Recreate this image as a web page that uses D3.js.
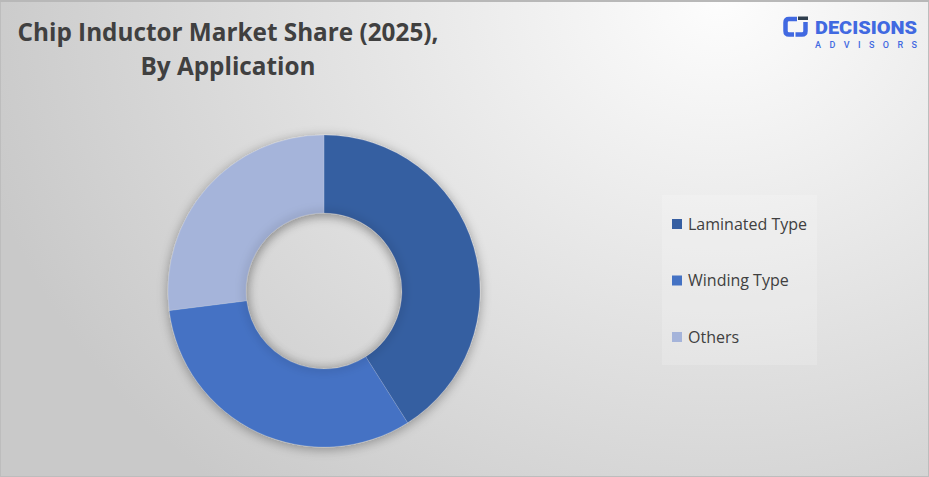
<!DOCTYPE html>
<html><head><meta charset="utf-8">
<script src="https://cdn.jsdelivr.net/npm/d3@7"></script>
<style>html,body{margin:0;padding:0;overflow:hidden;background:#fff}</style>
</head><body>
<svg id="c" width="929" height="477"></svg>
<script>
const categories = ["Laminated Type", "Winding Type", "Others"];
const shares = [41, 32, 27];
const colors = ["#365ea1", "#4472c4", "#a5b4da"];
const titleLines = ["Chip Inductor Market Share (2025),", "By Application"];

const W = 929, H = 477;
const svg = d3.select("#c");
const defs = svg.append("defs");
const bg = defs.append("radialGradient").attr("id","bg")
  .attr("gradientUnits","userSpaceOnUse").attr("cx",720).attr("cy",0).attr("r",760)
  .attr("gradientTransform","translate(720,0) scale(1,0.85) translate(-720,0)");
bg.append("stop").attr("offset","0%").attr("stop-color","#fdfdfd");
bg.append("stop").attr("offset","100%").attr("stop-color","#c9c9c9");
const sh = defs.append("filter").attr("id","sh").attr("x","-20%").attr("y","-20%").attr("width","140%").attr("height","140%");
sh.append("feGaussianBlur").attr("in","SourceAlpha").attr("stdDeviation",6).attr("result","b");
sh.append("feOffset").attr("in","b").attr("dx",0).attr("dy",2).attr("result","o");
sh.append("feComponentTransfer").attr("in","o").attr("result","o2")
  .append("feFuncA").attr("type","linear").attr("slope",0.35);
const m = sh.append("feMerge"); m.append("feMergeNode").attr("in","o2"); m.append("feMergeNode").attr("in","SourceGraphic");
const ish = defs.append("filter").attr("id","ish");
ish.append("feGaussianBlur").attr("stdDeviation",4);

svg.append("rect").attr("width",W).attr("height",H).attr("fill","url(#bg)");
svg.append("rect").attr("x",0.5).attr("y",0.5).attr("width",W-1).attr("height",H-1)
  .attr("fill","none").attr("stroke","#bdbdbd").attr("stroke-width",1);
svg.append("rect").attr("x",0).attr("y",0).attr("width",W).attr("height",2).attr("fill","#b8b8b8");

// title
svg.append("g").selectAll("text").data(titleLines).join("text")
  .attr("x",228).attr("y",(d,i)=>41+i*34).attr("text-anchor","middle")
  .attr("font-family","Open Sans, sans-serif").attr("font-weight",700).attr("font-size",24.3)
  .attr("fill","#404040").text(d=>d);

// logo
const lg = svg.append("g");
lg.append("path").attr("d","M797,19 L789,19 Q785.5,19 785.5,22.5 L785.5,31 Q785.5,34.5 789,34.5 L794,34.5")
  .attr("fill","none").attr("stroke","#4169e1").attr("stroke-width",4.5);
lg.append("path").attr("d","M805.5,22 L805.5,31 Q805.5,34.5 802,34.5 L795.5,34.5")
  .attr("fill","none").attr("stroke","#4169e1").attr("stroke-width",4.5);
lg.append("rect").attr("x",798).attr("y",16.5).attr("width",10).attr("height",3.5).attr("fill","#2f3e4e");
lg.append("text").attr("x",815).attr("y",34.3).attr("font-family","Roboto, sans-serif").attr("font-weight",900)
  .attr("font-size",18.7).attr("fill","#4169e1").attr("textLength",102).attr("lengthAdjust","spacingAndGlyphs").text("DECISIONS");
lg.append("text").attr("x",815).attr("y",47.8).attr("font-family","Roboto, sans-serif").attr("font-weight",500)
  .attr("font-size",9).attr("fill","#4169e1").attr("textLength",102).attr("lengthAdjust","spacing").text("ADVISORS");

// donut
const cx = 324, cy = 291, R = 156, r = 78;
const pie = d3.pie().sort(null).value(d=>d)(shares);
const arc = d3.arc().innerRadius(r).outerRadius(R);
const g = svg.append("g").attr("transform",`translate(${cx},${cy})`);
g.append("g").attr("filter","url(#sh)").selectAll("path").data(pie).join("path")
  .attr("d",arc).attr("fill",(d,i)=>colors[i]).attr("stroke","#ffffff").attr("stroke-opacity",0.25).attr("stroke-width",0.6);
g.append("circle").attr("r",r).attr("fill","none").attr("stroke","#000").attr("stroke-opacity",0.12)
  .attr("stroke-width",6).attr("filter","url(#ish)");

// legend
svg.append("rect").attr("x",662).attr("y",195).attr("width",155).attr("height",170)
  .attr("fill","#ffffff").attr("fill-opacity",0.18);
const leg = svg.append("g").selectAll("g").data(categories).join("g")
  .attr("transform",(d,i)=>`translate(672,${219+i*56.5})`);
leg.append("rect").attr("width",10).attr("height",10).attr("fill",(d,i)=>colors[i]);
leg.append("text").attr("x",16).attr("y",10.5).attr("font-family","Open Sans, sans-serif")
  .attr("font-size",16).attr("fill","#404040").text(d=>d);
</script>
</body></html>
